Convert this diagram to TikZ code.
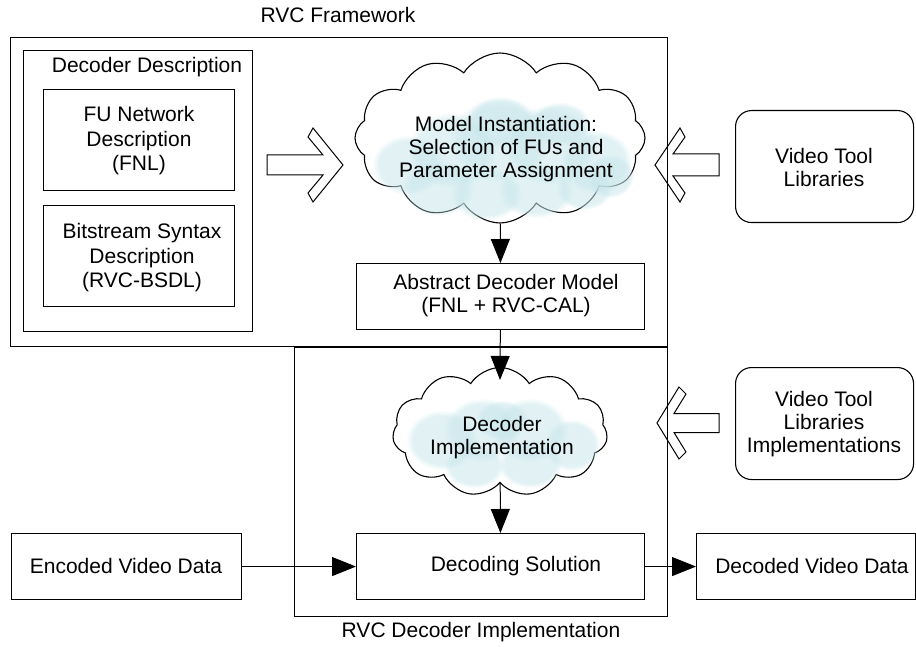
\documentclass[tikz,border=0pt]{standalone}
\usepackage{fontspec}
\setmainfont{Liberation Sans}
\usetikzlibrary{shapes.symbols,arrows.meta,fadings}
\definecolor{haze}{RGB}{200,230,235}
\begin{document}
\begin{tikzpicture}[x=1pt,y=-1pt,
  line width=1.1pt,
  txt/.style={font=\fontsize{21}{23}\selectfont, align=center, inner sep=0pt},
  box/.style={draw, inner sep=0pt, anchor=north west},
  rbox/.style={box, rounded corners=16pt},
  puff/.style={draw, cloud, cloud puffs=#1, cloud puff arc=115, cloud ignores aspect, inner sep=0pt},
  blob/.style={fill=haze, fill opacity=0.55, draw=none, path fading=circle with fuzzy edge 20 percent},
  flow/.style={-{Triangle[length=24pt,width=19pt]}, line width=1pt},
  hollow/.style={draw, line width=1pt, line join=miter}
]
\useasboundingbox (0,0) rectangle (916,647);

% --- framework and implementation frames
\node[box, minimum width=657pt, minimum height=309pt] (framework) at (10,37) {};
\node[txt] (fwlabel) at (338,15) {RVC Framework};
\node[box, minimum width=373pt, minimum height=269pt] (implframe) at (294,347) {};
\node[txt] (impllabel) at (481,632) {RVC Decoder Implementation};

% --- decoder description
\node[box, minimum width=229pt, minimum height=281pt] (descbox) at (23,50) {};
\node[txt] (desclabel) at (147,67) {Decoder Description};
\node[box, minimum width=191pt, minimum height=101pt] (fubox) at (43,89) {};
\node[txt, font=\fontsize{21}{24.5}\selectfont] (futext) at (139,141) {FU Network\\Description\\(FNL)};
\node[box, minimum width=191pt, minimum height=101pt] (bsbox) at (43,205) {};
\node[txt, font=\fontsize{21}{24.5}\selectfont] (bstext) at (142,258) {Bitstream Syntax\\Description\\(RVC-BSDL)};

% --- model instantiation cloud
\node[puff=12, minimum width=290pt, minimum height=170pt] (cloudA) at (500,138) {};
\foreach \cx/\cy/\rx/\ry in {408/165/36/30, 452/150/44/38, 500/140/50/42, 550/145/46/40,
                             596/162/36/32, 610/176/24/22, 500/122/34/26, 560/124/30/22,
                             438/188/36/28, 486/194/36/26, 536/190/38/28, 584/188/28/22}
  \fill[blob] (\cx,\cy) ellipse[x radius=\rx, y radius=\ry];
\node[txt] (cloudAtext) at (506,149) {Model Instantiation:\\Selection of FUs and\\Parameter Assignment};

% --- abstract decoder model
\node[box, minimum width=288pt, minimum height=66pt] (absbox) at (356,263) {};
\node[txt] (abstext) at (506,296) {Abstract Decoder Model\\(FNL + RVC-CAL)};

% --- decoder implementation cloud
\node[puff=11, minimum width=215pt, minimum height=129pt] (cloudB) at (500,432) {};
\coordinate (cloudBtop) at ([yshift=-13pt]cloudB.north);
\foreach \cx/\cy/\rx/\ry in {442/440/36/30, 482/430/38/32, 530/430/38/32, 572/445/28/26,
                             474/466/30/22, 530/464/32/24, 502/420/26/20}
  \fill[blob] (\cx,\cy) ellipse[x radius=\rx, y radius=\ry];
\node[txt] (cloudBtext) at (502,438) {Decoder\\Implementation};

% --- decoding solution and data boxes
\node[box, minimum width=288pt, minimum height=66pt] (decsol) at (356,533) {};
\node[txt] (decsoltext) at (516,566) {Decoding Solution};
\node[box, minimum width=230pt, minimum height=66pt] (enc) at (11,533) {};
\node[txt] (enctext) at (126,566) {Encoded Video Data};
\node[box, minimum width=219pt, minimum height=66pt] (decd) at (696,533) {};
\node[txt] (decdtext) at (812,566) {Decoded Video Data};

% --- tool libraries
\node[rbox, minimum width=178pt, minimum height=112pt] (vtl) at (735,110) {};
\node[txt] (vtltext) at (824,167) {Video Tool\\Libraries};
\node[rbox, minimum width=178pt, minimum height=112pt] (vtli) at (735,367) {};
\node[txt] (vtlitext) at (824,424) {Video Tool\\Libraries\\Implementations};

% --- hollow input arrows
\draw[hollow, shift={(343,165)}] (-76,-10) -- (-20,-10) -- (-35,-28) -- (-30,-37) -- (0,0)
  -- (-30,37) -- (-35,28) -- (-20,10) -- (-76,10) -- cycle;
\draw[hollow, shift={(655,165)}] (64,-11) -- (18,-11) -- (30,-28) -- (25,-37) -- (0,0)
  -- (25,37) -- (30,28) -- (18,11) -- (64,11) -- cycle;
\draw[hollow, shift={(657,423)}] (62,-9.5) -- (17,-9.5) -- (29,-29) -- (22,-36) -- (0,0)
  -- (22,36) -- (29,29) -- (17,9.5) -- (62,9.5) -- cycle;

% --- flow connectors
\draw[flow] (cloudA) -- (absbox);
\draw[flow] (absbox) -- (cloudBtop);
\draw[flow] (cloudB) -- (decsol);
\draw[flow] (enc) -- (decsol);
\draw[flow] (decsol) -- (decd);
\end{tikzpicture}
\end{document}
